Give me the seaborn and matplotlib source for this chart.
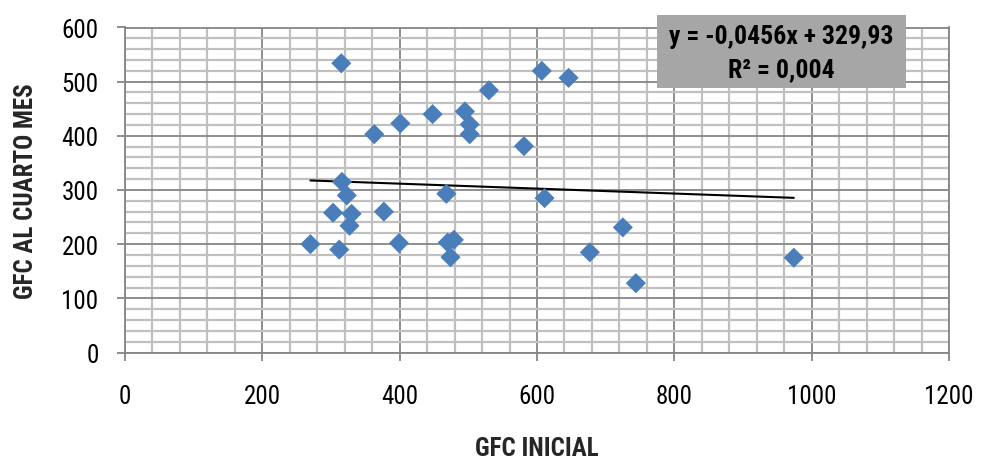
import matplotlib
matplotlib.use("Agg")
import matplotlib.pyplot as plt
from matplotlib import font_manager
from matplotlib.patches import Rectangle
from matplotlib.ticker import MultipleLocator
import numpy as np
import pandas as pd
import seaborn as sns

# GFC measurements: initial value vs. value at the fourth month
gfc_inicial = [270, 312, 303, 315, 316, 323, 330, 327, 363, 377, 399, 401,
               448, 468, 470, 479, 474, 495, 502, 502, 530, 581, 607, 611,
               646, 677, 725, 744, 974]
gfc_cuarto_mes = [200, 190, 258, 534, 315, 290, 256, 234, 403, 260, 202, 423,
                  440, 293, 203, 208, 176, 445, 421, 403, 484, 381, 520, 285,
                  507, 185, 231, 128, 175]

# Linear trend reported on the chart
slope = -0.0456
intercept = 329.93
r_squared = 0.004
equation_lines = ["y = -0,0456x + 329,93", "R² = 0,004"]

x_ticks = [0, 200, 400, 600, 800, 1000, 1200]
y_ticks = [0, 100, 200, 300, 400, 500, 600]

# Prefer a condensed sans face when one is installed
available = {f.name for f in font_manager.fontManager.ttflist}
narrow_candidates = ["Liberation Sans Narrow", "Arial Narrow", "Roboto Condensed",
                     "Open Sans Condensed", "Noto Sans Condensed"]
narrow = [n for n in narrow_candidates if n in available]
family = (narrow[:1] or ["Liberation Sans"]) + ["DejaVu Sans"]
is_narrow = bool(narrow)

sns.set_theme(style="white")
plt.rcParams["font.family"] = family

fig = plt.figure(figsize=(9.82, 4.60), dpi=100)
ax = fig.add_axes([125 / 982, 1 - 353.5 / 460, 824 / 982, 325 / 460])

df = pd.DataFrame({"GFC INICIAL": gfc_inicial, "GFC AL CUARTO MES": gfc_cuarto_mes})

major_c = "#868686"
minor_c = "#c0c0c0"

ax.set_xlim(0, 1200)
ax.set_ylim(0, 600)
ax.xaxis.set_minor_locator(MultipleLocator(40))
ax.yaxis.set_minor_locator(MultipleLocator(20))
ax.set_xticks(x_ticks)
ax.set_yticks(y_ticks)

ax.grid(which="minor", color=minor_c, linewidth=1.6, zorder=0)
ax.grid(which="major", color=major_c, linewidth=1.3, zorder=0.5)
ax.set_axisbelow(True)

# Trend line over the observed range
xs = np.array([min(gfc_inicial), max(gfc_inicial)])
trend = pd.DataFrame({"x": xs, "y": slope * xs + intercept})
sns.lineplot(data=trend, x="x", y="y", ax=ax, color="black", linewidth=1.5, zorder=2)

sns.scatterplot(data=df, x="GFC INICIAL", y="GFC AL CUARTO MES", ax=ax,
                marker="D", s=105, color="#4a7ebb", edgecolor="none",
                linewidth=0, zorder=3)

for side in ["top", "right", "left", "bottom"]:
    ax.spines[side].set_color(major_c)
    ax.spines[side].set_linewidth(1.3)

tick_size = 18 if is_narrow else 15
label_size = 18 if is_narrow else 15
eq_size = 18.5 if is_narrow else 15.5

ax.tick_params(axis="both", which="major", direction="out", length=6,
               width=1.3, color=major_c, labelsize=tick_size, labelcolor="black",
               bottom=True, left=True)
ax.tick_params(axis="x", which="major", pad=17)
ax.tick_params(axis="y", which="major", pad=13)
ax.tick_params(which="minor", length=0, width=0, bottom=False, left=False)

ax.set_xlabel("GFC INICIAL", fontsize=label_size, fontweight="bold", labelpad=20)
ax.set_ylabel("GFC AL CUARTO MES", fontsize=label_size, fontweight="bold", labelpad=17)

# Equation box
box = Rectangle((657 / 982, 1 - 89 / 460), 249 / 982, 73 / 460,
                transform=fig.transFigure, facecolor="#a6a6a6",
                edgecolor="none", zorder=5)
fig.patches.append(box)
fig.text(781 / 982, 1 - 37 / 460, equation_lines[0], ha="center", va="center",
         fontsize=eq_size, fontweight="bold", color="black", zorder=6)
fig.text(781 / 982, 1 - 70 / 460, equation_lines[1], ha="center", va="center",
         fontsize=eq_size, fontweight="bold", color="black", zorder=6)

fig.savefig("out.png", dpi=100)
